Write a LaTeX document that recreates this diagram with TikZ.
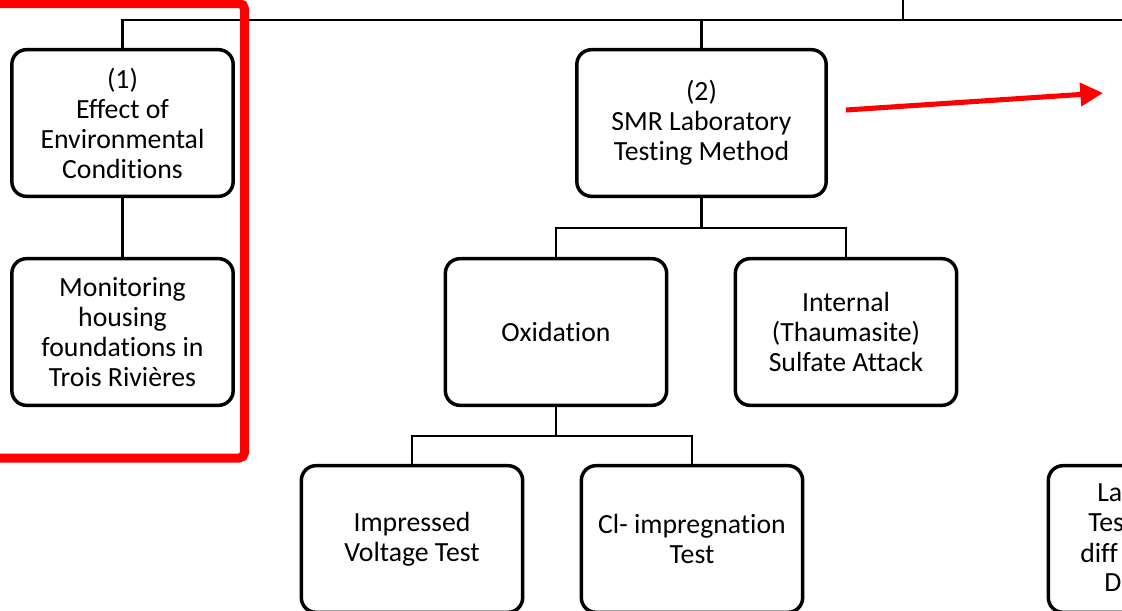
\documentclass[tikz,border=0pt]{standalone}
\usepackage{fontspec}
\setmainfont[RawFeature=-liga]{Carlito}
\usetikzlibrary{arrows.meta}
\begin{document}
\begin{tikzpicture}[x=0.75pt,y=-0.75pt,
  box/.style={draw, line width=2.6pt, rounded corners=11pt, minimum width=166pt, minimum height=110pt, align=center, inner sep=0pt, font=\fontsize{20.8}{22.5}\selectfont},
  wide/.style={minimum width=187pt},
  conn/.style={line width=2.1pt},
  frag/.style={anchor=west, inner sep=0pt, font=\fontsize{20.8}{22.5}\selectfont},
  hilite/.style={draw=red, line width=6.75pt, rounded corners=4pt},
  redarrow/.style={red, line width=3.8pt, -{Triangle[length=17pt, width=17pt]}}]
\useasboundingbox (0,0) rectangle (1122,611);
\clip (0,0) rectangle (1122,611);
\node[box] (b1) at (122.5,123) {(1)\\Effect of\\Environmental\\Conditions};
\node[box] (mon) at (122.5,332) {Monitoring\\housing\\foundations in\\Trois Rivières};
\node[box,wide] (smr) at (701.5,123) {(2)\\SMR Laboratory\\Testing Method};
\node[box] (oxi) at (556,332) {Oxidation};
\node[box] (int) at (846,332) {Internal\\(Thaumasite)\\Sulfate Attack};
\node[box] (imp) at (412,539) {Impressed\\Voltage Test};
\node[box] (cl) at (692,539) {Cl- impregnation\\Test};
\node[box] (lab) at (1159,539) {};
\node[frag] (l1) at (1097,493) {La};
\node[frag] (l2) at (1088,523) {Tes};
\node[frag] (l3) at (1080,553) {diff};
\node[frag] (l4) at (1104,583) {D};
\coordinate (tr) at (1122,20);
\coordinate (tt) at (903,0);
\draw[conn] (b1.north) |- (tr);
\draw[conn] (smr.north) -- (smr.north |- tr);
\draw[conn] (tt) -- (tt |- tr);
\draw[conn] (b1.south) -- (mon.north);
\coordinate (j1) at (701.5,228);
\draw[conn] (smr.south) -- (j1);
\draw[conn] (oxi.north) |- (j1) -| (int.north);
\coordinate (j2) at (556,436);
\draw[conn] (oxi.south) -- (j2);
\draw[conn] (imp.north) |- (j2) -| (cl.north);
\coordinate (rl) at (-30,3.5);
\coordinate (rr) at (244.5,458);
\draw[hilite] (rl) rectangle (rr);
\coordinate (ra) at (846,110);
\coordinate (rb) at (1103,93);
\draw[redarrow] (ra) -- (rb);
\end{tikzpicture}
\end{document}
